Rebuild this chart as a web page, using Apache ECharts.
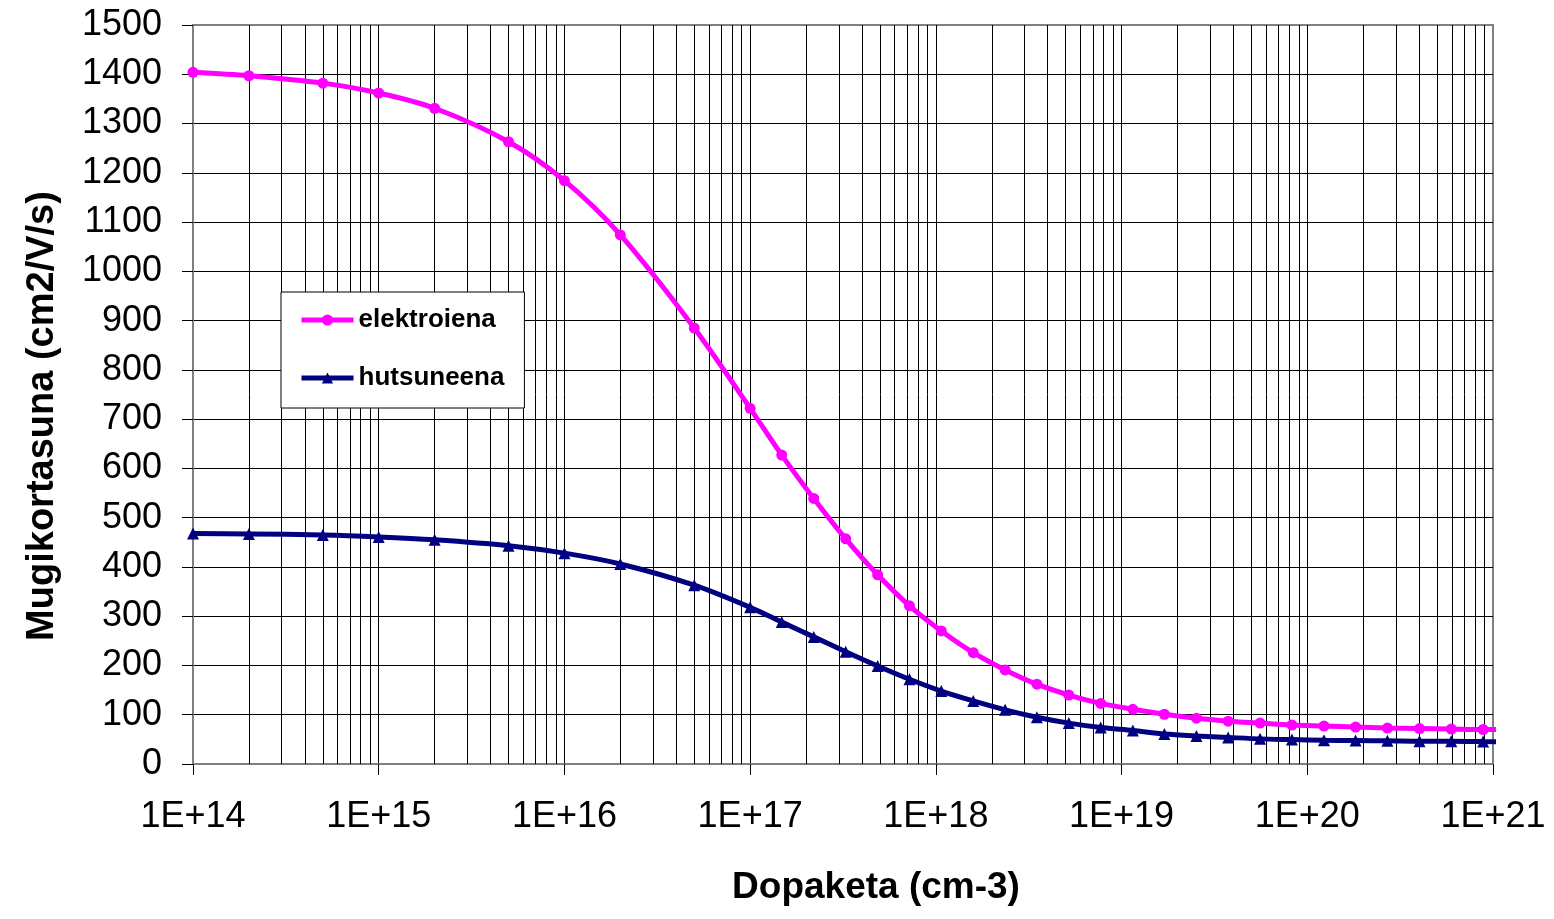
<!DOCTYPE html>
<html>
<head>
<meta charset="utf-8">
<script src="https://cdn.jsdelivr.net/npm/echarts@6/dist/echarts.min.js"></script>
<style>
html,body{margin:0;padding:0;background:#fff;}
#chart{width:1554px;height:919px;}
</style>
</head>
<body>
<div id="chart"></div>
<script>
// Doping concentration (cm-3)
var dopingValues = [1e14, 2e14, 5e14, 1e15, 2e15, 5e15, 1e16, 2e16, 5e16, 1e17,
  1.48e17, 2.2e17, 3.27e17, 4.86e17, 7.21e17, 1.07e18, 1.59e18, 2.36e18, 3.5e18, 5.2e18,
  7.72e18, 1.15e19, 1.7e19, 2.53e19, 3.75e19, 5.57e19, 8.27e19, 1.23e20, 1.82e20, 2.7e20,
  4.02e20, 5.96e20, 8.85e20, 1.31e21];
// Electron mobility
var elektroienaValues = [1404, 1397, 1382, 1362, 1331, 1263, 1184, 1074, 885, 722,
  627, 539, 457, 384, 321, 270, 226, 191, 162, 140,
  123, 111, 101, 93, 87, 83, 79, 77, 75, 73,
  72, 71, 70, 70];
// Hole mobility
var hutsuneenaValues = [468, 467, 465, 461, 455, 443, 428, 406, 363, 318,
  288, 258, 228, 199, 172, 148, 128, 110, 95, 83,
  74, 68, 61, 57, 54, 51, 49.5, 48, 47.5, 47,
  46, 46, 45.5, 45];
var seriesNames = ['elektroiena', 'hutsuneena'];
var xTickLabels = ['1E+14', '1E+15', '1E+16', '1E+17', '1E+18', '1E+19', '1E+20', '1E+21'];
var xMinExp = 14, xMaxExp = 21;
var xAxisTitle = 'Dopaketa (cm-3)';
var yAxisTitle = 'Mugikortasuna (cm2/V/s)';

var FONT = 'Arial, "Liberation Sans", sans-serif';

// minor (2..9) log grid lines, placed through the x axis scale
var minorGrid = [];
for (var e = xMinExp; e < xMaxExp; e++) {
  for (var m = 2; m <= 9; m++) {
    minorGrid.push({ xAxis: m * Math.pow(10, e) });
  }
}

function pairs(ys) {
  return dopingValues.map(function (x, i) { return [x, ys[i]]; });
}

var chart = echarts.init(document.getElementById('chart'), null, { renderer: 'canvas' });
var option = {
  animation: false,
  backgroundColor: '#fff',
  grid: {
    left: 193, right: 61, top: 25, bottom: 155,
    show: true, borderColor: '#808080', borderWidth: 2, backgroundColor: 'transparent'
  },
  legend: {
    orient: 'vertical',
    left: 281, top: 292,
    itemWidth: 52, itemHeight: 14, itemGap: 32,
    padding: [15, 20, 17, 18],
    backgroundColor: '#fff', borderColor: '#000', borderWidth: 1,
    lineStyle: { width: 5 },
    textStyle: { fontSize: 26, fontWeight: 'bold', color: '#000', fontFamily: FONT },
    data: seriesNames
  },
  xAxis: {
    type: 'log', logBase: 10,
    min: Math.pow(10, xMinExp), max: Math.pow(10, xMaxExp),
    interval: 1, splitNumber: 7,
    axisLine: { show: true, onZero: false, lineStyle: { color: '#808080', width: 2 } },
    axisTick: { show: true, length: 11, lineStyle: { color: '#000', width: 1 } },
    axisLabel: {
      margin: 35, fontSize: 36, color: '#000', fontFamily: FONT,
      formatter: function (v) {
        var idx = Math.round(Math.log(v) / Math.LN10) - xMinExp;
        return xTickLabels[idx] || '';
      }
    },
    splitLine: { show: true, showMinLine: false, showMaxLine: false, lineStyle: { color: '#000', width: 1 } }
  },
  yAxis: {
    type: 'value', min: 0, max: 1500, interval: 100,
    axisLine: { show: true, lineStyle: { color: '#808080', width: 2 } },
    axisTick: { show: true, length: 11, lineStyle: { color: '#000', width: 1 } },
    axisLabel: {
      margin: 31, fontSize: 36, color: '#000', fontFamily: FONT,
      formatter: function (v) { return String(v); }
    },
    splitLine: { show: true, showMinLine: false, showMaxLine: false, lineStyle: { color: '#000', width: 1 } }
  },
  series: [
    {
      name: seriesNames[0], type: 'line', z: 3,
      data: pairs(elektroienaValues),
      smooth: 0.3, symbol: 'circle', symbolSize: 11,
      lineStyle: { color: '#FF00FF', width: 5 },
      itemStyle: { color: '#FF00FF' },
      emphasis: { disabled: true },
      markLine: {
        silent: true, z: 1, animation: false,
        symbol: ['none', 'none'],
        label: { show: false },
        emphasis: { disabled: true },
        lineStyle: { color: '#000', width: 1, type: 'solid' },
        data: minorGrid
      }
    },
    {
      name: seriesNames[1], type: 'line', z: 3,
      data: pairs(hutsuneenaValues),
      smooth: 0.3, symbol: 'triangle', symbolSize: 12,
      lineStyle: { color: '#000080', width: 5 },
      itemStyle: { color: '#000080' },
      emphasis: { disabled: true }
    }
  ],
  graphic: [
    {
      type: 'text', x: 876, y: 888,
      style: { text: xAxisTitle, fontSize: 37, fontWeight: 'bold', fontFamily: FONT, fill: '#000', align: 'center', verticalAlign: 'middle' }
    },
    {
      type: 'text', x: 43, y: 416, rotation: Math.PI / 2,
      style: { text: yAxisTitle, fontSize: 38, fontWeight: 'bold', fontFamily: FONT, fill: '#000', align: 'center', verticalAlign: 'middle' }
    }
  ]
};
chart.setOption(option);
</script>
</body>
</html>
